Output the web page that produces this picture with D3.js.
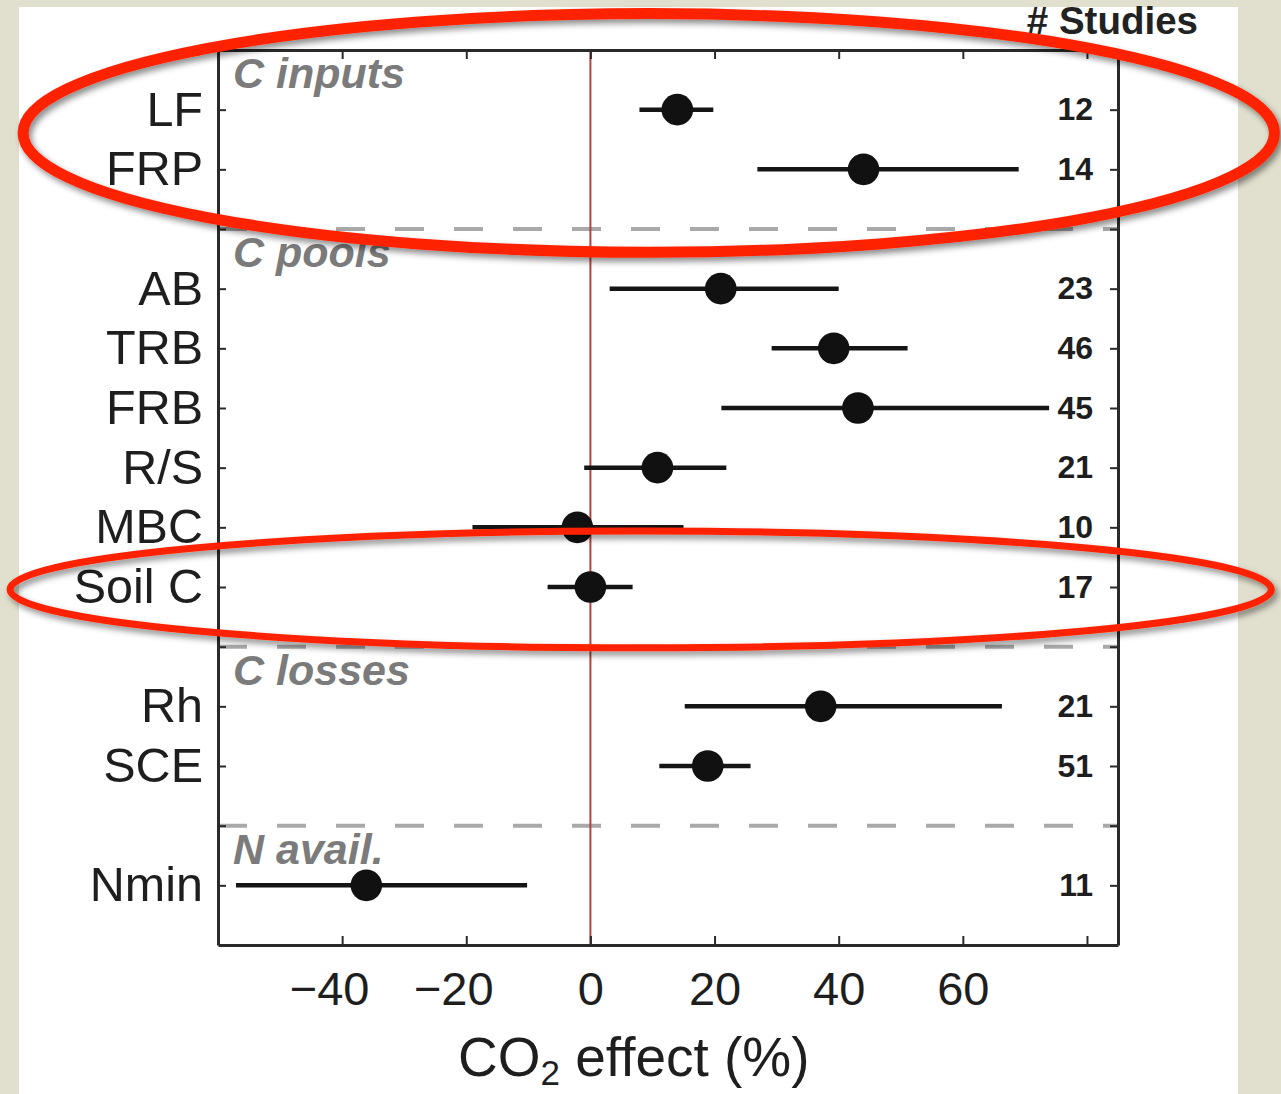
<!DOCTYPE html>
<html>
<head>
<meta charset="utf-8">
<script src="https://cdn.jsdelivr.net/npm/d3@7"></script>
<style>
  html, body { margin: 0; padding: 0; background: #e1dfcd; }
  svg { display: block; }
  text { font-family: "Liberation Sans", Arial, Helvetica, sans-serif; }
</style>
</head>
<body>
<svg id="chart" width="1281" height="1094"></svg>
<script>
// ---------------- data ----------------
const categories = ["LF", "FRP", "AB", "TRB", "FRB", "R/S", "MBC", "Soil C", "Rh", "SCE", "Nmin"];
const groupOf    = [0, 0, 1, 1, 1, 1, 1, 1, 2, 2, 3];
const groupNames = ["C inputs", "C pools", "C losses", "N avail."];
const effect     = [14.0, 44.0, 21.0, 39.2, 43.1, 10.8, -2.1, 0.0, 37.1, 18.9, -36.1];
const ciLow      = [7.9, 26.9, 3.1, 29.2, 21.1, -1.0, -19.0, -6.9, 15.2, 11.1, -57.1];
const ciHigh     = [19.8, 69.0, 40.0, 51.1, 73.9, 21.9, 15.0, 6.8, 66.3, 25.8, -10.2];
const studies    = [12, 14, 23, 46, 45, 21, 10, 17, 21, 51, 11];
const xTicks     = [-40, -20, 0, 20, 40, 60, 80];
const xTickLabelled = [-40, -20, 0, 20, 40, 60];
const xTitleMain = "CO";
const xTitleSub  = "2";
const xTitleRest = " effect (%)";
const studiesTitle = "# Studies";
// highlighted items (annotations)
const highlightGroups = ["C inputs"];
const highlightItems  = ["Soil C"];

// ---------------- layout ----------------
const svg = d3.select("#chart");
const W = 1281, H = 1094;
const plot = { left: 218, right: 1118, top: 50, bottom: 945 };

// rows: items + separator rows between groups
const rowOf = [];
const sepRows = [];
const groupFirstRow = [];
let r = 0;
categories.forEach((c, i) => {
  if (i > 0 && groupOf[i] !== groupOf[i - 1]) { sepRows.push(r); r++; }
  if (groupFirstRow[groupOf[i]] === undefined) groupFirstRow[groupOf[i]] = r;
  rowOf.push(r); r++;
});
const nRows = r;

const x = d3.scaleLinear().domain([-60, 85]).range([plot.left, plot.right]);
const y = d3.scaleLinear().domain([-1, nRows]).range([plot.top, plot.bottom]);
const allRows = d3.range(nRows);

// background
svg.append("rect").attr("x", 0).attr("y", 0).attr("width", W).attr("height", H).attr("fill", "#e1dfcd");
svg.append("rect").attr("x", 19).attr("y", 7).attr("width", 1219).attr("height", H).attr("fill", "#ffffff");

// defs: drop shadow
const defs = svg.append("defs");
const f = defs.append("filter").attr("id", "shadow").attr("x", "-10%").attr("y", "-20%").attr("width", "120%").attr("height", "150%");
f.append("feDropShadow").attr("dx", 3).attr("dy", 4).attr("stdDeviation", 3)
  .attr("flood-color", "#000").attr("flood-opacity", 0.45);

// separators (dashed)
svg.append("g").selectAll("line").data(sepRows).join("line")
  .attr("x1", plot.left).attr("x2", plot.right)
  .attr("y1", d => y(d)).attr("y2", d => y(d))
  .attr("stroke", "#a9a9a9").attr("stroke-width", 4)
  .attr("stroke-dasharray", "29,30");

// zero line
svg.append("line")
  .attr("x1", x(0)).attr("x2", x(0)).attr("y1", plot.top).attr("y2", plot.bottom)
  .attr("stroke", "#b8403c").attr("stroke-width", 2);

// group labels
svg.append("g").selectAll("text").data(groupNames).join("text")
  .attr("x", plot.left + 15)
  .attr("y", (d, i) => y(groupFirstRow[i] - 0.36))
  .attr("font-size", 43).attr("font-weight", "bold").attr("font-style", "italic")
  .attr("fill", "#7b7b7b")
  .text(d => d);

// axes
const axisStyle = g => {
  g.select(".domain").attr("stroke", "#2a2a2a").attr("stroke-width", 3);
  g.selectAll(".tick line").attr("stroke", "#2a2a2a").attr("stroke-width", 2);
};

// bottom
const gx = svg.append("g").attr("transform", `translate(0,${plot.bottom})`)
  .call(d3.axisBottom(x).tickValues(xTicks).tickSizeInner(-9).tickSizeOuter(0).tickPadding(27)
    .tickFormat(d => xTickLabelled.includes(d) ? d3.format("d")(d) : ""));
gx.call(axisStyle);
gx.selectAll("text").attr("font-size", 47).attr("fill", "#1e1e1e")
  .attr("font-family", "Liberation Sans, Arial, sans-serif")
  .attr("dx", d => d < 0 ? -13 : 0);

// top
const gt = svg.append("g").attr("transform", `translate(0,${plot.top})`)
  .call(d3.axisTop(x).tickValues(xTicks).tickSizeInner(-9).tickSizeOuter(0).tickFormat(""));
gt.call(axisStyle);

// left (category names)
const gl = svg.append("g").attr("transform", `translate(${plot.left},0)`)
  .call(d3.axisLeft(y).tickValues(allRows).tickSizeInner(-8).tickSizeOuter(0).tickPadding(15)
    .tickFormat(d => { const i = rowOf.indexOf(d); return i >= 0 ? categories[i] : ""; }));
gl.call(axisStyle);
gl.selectAll("text").attr("font-size", 48.5).attr("fill", "#1e1e1e")
  .attr("font-family", "Liberation Sans, Arial, sans-serif");

// right (study counts, ticks pointing inward)
const gr = svg.append("g").attr("transform", `translate(${plot.right},0)`)
  .call(d3.axisLeft(y).tickValues(allRows).tickSizeInner(8).tickSizeOuter(0).tickPadding(17)
    .tickFormat(d => { const i = rowOf.indexOf(d); return i >= 0 ? String(studies[i]) : ""; }));
gr.call(axisStyle);
gr.selectAll("text").attr("font-size", 32).attr("font-weight", "bold").attr("fill", "#1e1e1e")
  .attr("font-family", "Liberation Sans, Arial, sans-serif");

// "# Studies" title
svg.append("text").attr("x", 1198).attr("y", 34).attr("text-anchor", "end")
  .attr("font-size", 38.5).attr("font-weight", "bold").attr("fill", "#222")
  .text(studiesTitle);

// x title
const xt = svg.append("text").attr("x", 458).attr("y", 1076)
  .attr("font-size", 55).attr("fill", "#1e1e1e");
xt.append("tspan").text(xTitleMain);
xt.append("tspan").attr("font-size", 35).attr("dy", 9).text(xTitleSub);
xt.append("tspan").attr("dy", -9).text(xTitleRest);

// error bars
const rows = categories.map((c, i) => ({ c, i, row: rowOf[i], e: effect[i], lo: ciLow[i], hi: ciHigh[i] }));
svg.append("g").selectAll("line").data(rows).join("line")
  .attr("x1", d => x(d.lo)).attr("x2", d => x(d.hi))
  .attr("y1", d => y(d.row)).attr("y2", d => y(d.row))
  .attr("stroke", "#151515").attr("stroke-width", 4.5);

svg.append("g").selectAll("circle").data(rows).join("circle")
  .attr("cx", d => x(d.e)).attr("cy", d => y(d.row)).attr("r", 15.8)
  .attr("fill", "#111");

// highlight ellipses (annotations)
const hl = [];
highlightGroups.forEach(g => {
  const gi = groupNames.indexOf(g);
  const rs = rowOf.filter((rr, i) => groupOf[i] === gi);
  hl.push({ cy: y((d3.min(rs) + d3.max(rs)) / 2 - 0.11), ry: (y(1) - y(0)) * 2.0, cx: x(9.4), rx: x(9.4) - x(9.4 - 100.8), sw: 11 });
});
highlightItems.forEach(it => {
  const i = categories.indexOf(it);
  hl.push({ cy: y(rowOf[i] + 0.04), ry: (y(1) - y(0)) * 0.98, cx: x(8.1), rx: x(8.1) - x(8.1 - 101.6), sw: 7 });
});
svg.append("g").attr("filter", "url(#shadow)").selectAll("ellipse").data(hl).join("ellipse")
  .attr("cx", d => d.cx).attr("cy", d => d.cy).attr("rx", d => d.rx).attr("ry", d => d.ry)
  .attr("fill", "none").attr("stroke", "#fe2400").attr("stroke-width", d => d.sw);
</script>
</body>
</html>
